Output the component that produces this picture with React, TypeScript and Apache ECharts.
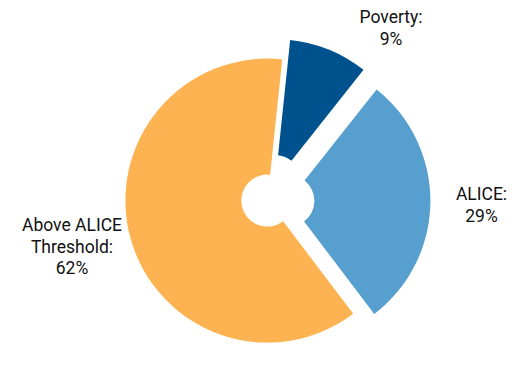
import React, { useEffect, useRef } from "react";
import * as echarts from "echarts";

const categories = ["Poverty", "ALICE", "Above ALICE Threshold"];
const values = [9, 29, 62];
const exploded = [true, true, false];
const colors = ["#00528F", "#569FCF", "#FDB351"];
// label anchor centers (layout only)
const labelCenters: [number, number][] = [
  [391, 28],
  [481.5, 205],
  [72, 246.5],
];

const CENTER = [267.4, 200.6];
const RADIUS = [26, 142];
const START = 84;

export default function App() {
  const ref = useRef<HTMLDivElement>(null);
  useEffect(() => {
    if (!ref.current) return;
    const chart = echarts.init(ref.current, undefined, { renderer: "svg" });
    chart.setOption({
      animation: false,
      backgroundColor: "#ffffff",
      series: [
        {
          type: "pie",
          center: CENTER,
          radius: RADIUS,
          startAngle: START,
          clockwise: true,
          selectedMode: "multiple",
          selectedOffset: 21,
          silent: true,
          label: { show: false },
          labelLine: { show: false },
          emphasis: { disabled: true },
          data: categories.map((name, i) => ({
            name,
            value: values[i],
            selected: exploded[i],
            itemStyle: { color: colors[i] },
          })),
        },
        {
          type: "pie",
          center: CENTER,
          radius: RADIUS,
          startAngle: START,
          clockwise: true,
          silent: true,
          avoidLabelOverlap: false,
          itemStyle: { color: "rgba(0,0,0,0)" },
          label: {
            show: true,
            position: "outside",
            alignTo: "none",
            overflow: "none",
            fontFamily: "Roboto",
            fontSize: 17.5,
            lineHeight: 21.5,
            color: "#111111",
            align: "center",
            formatter: (p: any) =>
              p.name.replace(" Threshold", "\nThreshold") + ":\n" + p.value + "%",
          },
          labelLine: { show: false },
          labelLayout: (p: any) => {
            const c = labelCenters[p.dataIndex];
            return { x: c[0], y: c[1], align: "center", verticalAlign: "middle" };
          },
          emphasis: { disabled: true },
          data: categories.map((name, i) => ({ name, value: values[i] })),
        },
      ],
    });
    return () => chart.dispose();
  }, []);
  return (
    <div
      ref={ref}
      style={{ position: "fixed", left: 0, top: 0, width: 519, height: 366 }}
    />
  );
}
